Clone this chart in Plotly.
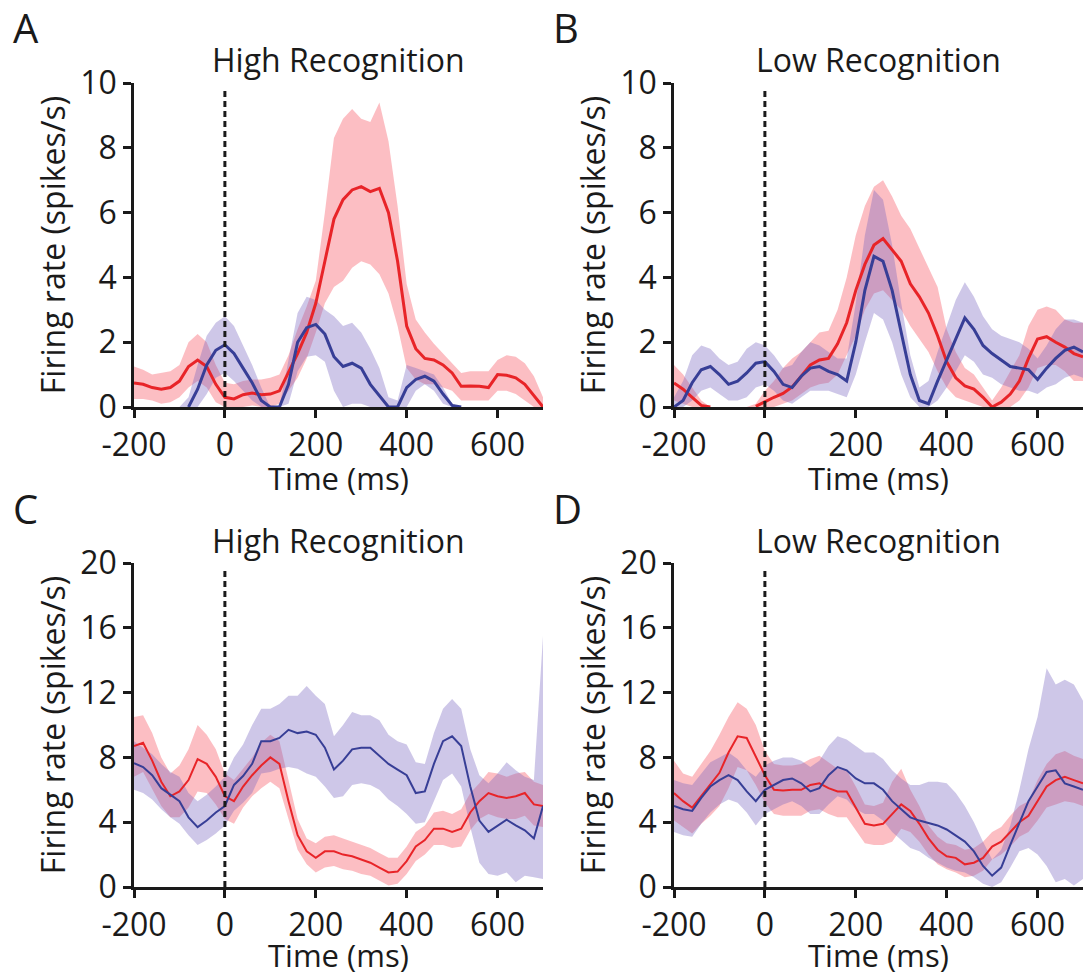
import plotly.graph_objects as go

# ---------------- data ----------------
time_ms = [-200, -180, -160, -140, -120, -100, -80, -60, -40, -20, 0, 20, 40, 60, 80, 100,
           120, 140, 160, 180, 200, 220, 240, 260, 280, 300, 320, 340, 360, 380, 400, 420,
           440, 460, 480, 500, 520, 540, 560, 580, 600, 620, 640, 660, 680, 700]

# Panel A (High Recognition, top); None = rate sits on zero (line hidden by axis)
a_red = [0.74, 0.7, 0.6, 0.55, 0.6, 0.8, 1.25, 1.45, 1.25, 0.7, 0.3, 0.25, 0.38, 0.43, 0.38, 0.4,
         0.5, 1.05, 1.65, 2.3, 3.2, 4.5, 5.8, 6.4, 6.7, 6.8, 6.65, 6.75, 6.0, 4.5, 2.5, 1.8,
         1.5, 1.45, 1.3, 1.05, 0.64, 0.65, 0.64, 0.6, 1.0, 0.98, 0.9, 0.7, 0.35, 0.0]
a_red_hi = [1.25, 1.15, 1.0, 1.05, 1.1, 1.3, 2.0, 2.25, 2.0, 1.3, 0.75, 0.7, 0.8, 0.85, 0.85, 0.9,
            1.0, 1.6, 2.4, 3.1, 3.9, 6.0, 8.3, 8.9, 9.2, 8.9, 8.8, 9.4, 8.2, 6.2, 3.8, 2.7,
            2.3, 1.95, 1.65, 1.35, 1.05, 1.1, 1.1, 1.1, 1.45, 1.6, 1.55, 1.35, 0.95, 0.3]
a_red_lo = [0.25, 0.25, 0.2, 0.1, 0.15, 0.3, 0.6, 0.8, 0.6, 0.15, 0.0, 0.0, 0.0, 0.05, 0.0, 0.0,
            0.1, 0.5, 0.9, 1.5, 2.3, 3.2, 3.7, 3.9, 4.3, 4.5, 4.4, 4.1, 3.5, 2.5, 1.2, 0.85,
            0.7, 0.7, 0.6, 0.5, 0.2, 0.2, 0.2, 0.2, 0.5, 0.5, 0.4, 0.2, 0.0, 0.0]
a_blue = [None, None, None, None, None, None, 0, 0.55, 1.3, 1.75, 1.92, 1.65, 1.2, 0.75, 0.2, 0,
          0, 0.7, 2.0, 2.45, 2.55, 2.25, 1.55, 1.25, 1.35, 1.2, 0.7, 0.35, 0.0, 0, 0.6, 0.85,
          0.95, 0.8, 0.4, 0.05, 0, None, None, None, None, None, None, None, None, None]
a_blue_hi = [0, 0, 0, 0, 0, 0, 0.3, 1.3, 2.2, 2.6, 2.8, 2.5, 1.9, 1.3, 0.6, 0,
             0, 1.4, 2.9, 3.4, 3.3, 3.0, 2.8, 2.5, 2.6, 2.3, 1.8, 1.2, 0.3, 0.2, 1.3, 1.2,
             1.1, 1.0, 0.6, 0.1, 0, 0, 0, 0, 0, 0, 0, 0, 0, 0]
a_blue_lo = [0, 0, 0, 0, 0, 0, 0, 0, 0.4, 0.9, 1.05, 0.8, 0.5, 0.2, 0, 0,
             0, 0.1, 1.1, 1.55, 1.6, 1.4, 0.5, 0.0, 0.1, 0.1, 0, 0, 0, 0, 0, 0.5,
             0.7, 0.5, 0.1, 0, 0, 0, 0, 0, 0, 0, 0, 0, 0, 0]

# Panel B (Low Recognition, top)
b_red = [0.74, 0.55, 0.3, 0.05, 0, None, None, None, None, 0.02, 0.17, 0.3, 0.42, 0.62, 0.95, 1.3,
         1.45, 1.5, 1.95, 2.6, 3.6, 4.4, 5.0, 5.2, 4.85, 4.5, 3.8, 3.4, 2.9, 2.2, 1.4, 0.9,
         0.65, 0.55, 0.3, 0.0, 0.15, 0.4, 0.8, 1.5, 2.1, 2.17, 2.0, 1.85, 1.65, 1.55]
b_red_hi = [1.3, 1.0, 0.6, 0.2, 0, 0, 0, 0, 0, 0.1, 0.5, 0.8, 1.2, 1.5, 1.7, 2.0,
            2.3, 2.35, 3.0, 4.0, 5.3, 6.2, 6.8, 7.0, 6.5, 5.9, 5.5, 4.9, 4.3, 3.7, 2.4, 1.7,
            1.2, 1.0, 0.6, 0.2, 0.6, 1.1, 1.6, 2.5, 3.0, 3.1, 3.0, 2.7, 2.6, 2.6]
b_red_lo = [0.2, 0.1, 0, 0, 0, 0, 0, 0, 0, 0, 0, 0, 0.1, 0.2, 0.4, 0.6,
            0.7, 0.75, 1.0, 1.6, 2.2, 3.0, 3.5, 3.6, 3.3, 3.0, 2.5, 2.1, 1.7, 1.1, 0.6, 0.3,
            0.2, 0.1, 0, 0, 0, 0, 0.2, 0.6, 1.2, 1.3, 1.3, 1.1, 0.8, 0.8]
b_blue = [0, 0.2, 0.75, 1.15, 1.25, 1.0, 0.7, 0.8, 1.05, 1.35, 1.4, 1.1, 0.7, 0.6, 0.95, 1.2,
          1.25, 1.1, 1.0, 0.8, 2.0, 3.6, 4.65, 4.5, 3.6, 2.3, 1.0, 0.2, 0.1, 0.8, 1.45, 2.1,
          2.75, 2.4, 1.9, 1.65, 1.45, 1.25, 1.2, 1.15, 0.85, 1.2, 1.5, 1.75, 1.85, 1.7]
b_blue_hi = [0.3, 0.8, 1.6, 1.9, 1.8, 1.5, 1.3, 1.4, 1.8, 2.0, 1.9, 1.6, 1.2, 1.3, 1.7, 2.0,
             1.9, 1.7, 1.5, 1.5, 3.2, 5.3, 6.7, 6.4, 5.0, 3.2, 1.6, 0.6, 0.8, 1.7, 2.5, 3.3,
             3.85, 3.4, 2.8, 2.4, 2.2, 2.1, 2.0, 1.8, 1.5, 1.9, 2.4, 2.7, 2.7, 2.6]
b_blue_lo = [0, 0, 0.2, 0.5, 0.6, 0.4, 0.2, 0.2, 0.3, 0.6, 0.7, 0.5, 0.2, 0.1, 0.3, 0.5,
             0.5, 0.5, 0.4, 0.3, 1.0, 2.0, 2.9, 2.7, 2.0, 1.0, 0.3, 0, 0, 0.2, 0.6, 1.1,
             1.6, 1.4, 1.0, 0.9, 0.7, 0.6, 0.5, 0.5, 0.4, 0.6, 0.7, 0.9, 1.0, 0.9]

# Panel C (High Recognition, bottom)
c_red = [8.7, 8.9, 7.8, 6.5, 5.6, 5.9, 6.6, 7.9, 7.6, 6.8, 5.6, 5.3, 6.2, 6.9, 7.5, 8.0,
         7.6, 5.3, 3.2, 2.2, 1.8, 2.2, 2.2, 2.0, 1.9, 1.7, 1.5, 1.2, 0.9, 0.95, 1.6, 2.5,
         2.9, 3.6, 3.6, 3.4, 3.6, 4.6, 5.3, 5.8, 5.6, 5.5, 5.6, 5.8, 5.1, 5.0]
c_red_hi = [10.5, 10.6, 9.5, 8.0, 7.0, 7.5, 8.5, 10.0, 9.4, 8.5, 7.0, 6.6, 7.3, 8.0, 8.9, 9.4,
            9.0, 6.5, 4.2, 3.0, 2.7, 3.1, 3.2, 3.0, 2.8, 2.6, 2.4, 2.1, 1.8, 1.8, 2.5, 3.4,
            3.8, 4.6, 4.7, 4.5, 4.8, 5.8, 6.4, 7.1, 7.0, 6.8, 7.0, 7.1, 6.5, 6.3]
c_red_lo = [6.8, 7.1, 6.1, 5.0, 4.3, 4.3, 4.9, 5.9, 5.8, 5.1, 4.2, 3.9, 4.9, 5.6, 6.1, 6.5,
            6.1, 4.2, 2.3, 1.4, 0.9, 1.2, 1.3, 1.1, 1.0, 0.8, 0.7, 0.4, 0.1, 0.2, 0.8, 1.6,
            2.0, 2.6, 2.6, 2.4, 2.5, 3.5, 4.2, 4.5, 4.3, 4.2, 4.2, 4.4, 3.8, 3.7]
c_blue = [7.65, 7.4, 6.9, 6.1, 5.7, 5.3, 4.3, 3.7, 4.1, 4.6, 5.0, 6.3, 6.85, 7.6, 9.0, 9.0,
          9.2, 9.7, 9.5, 9.6, 9.4, 8.6, 7.25, 7.8, 8.5, 8.6, 8.6, 8.1, 7.6, 7.25, 6.9, 5.8,
          5.9, 7.6, 9.0, 9.3, 8.7, 6.2, 4.1, 3.4, 3.8, 4.15, 3.8, 3.5, 3.0, 5.0]
c_blue_hi = [9.0, 8.6, 8.2, 7.6, 7.1, 6.8, 5.8, 5.3, 5.7, 6.2, 6.8, 8.0, 8.8, 10.0, 11.0, 11.0,
             11.3, 11.8, 11.8, 12.4, 11.8, 11.3, 9.3, 10.0, 10.8, 10.6, 10.6, 10.3, 9.4, 9.0, 8.8, 7.7,
             7.6, 9.5, 11.0, 11.6, 11.0, 8.5, 6.9, 6.4, 7.0, 7.7, 7.2, 6.8, 6.6, 15.5]
c_blue_lo = [6.0, 5.8, 5.4, 4.8, 4.3, 3.9, 3.2, 2.6, 2.9, 3.3, 3.8, 4.7, 5.2, 5.8, 7.0, 7.1,
             7.3, 7.4, 7.3, 7.0, 6.8, 6.2, 5.5, 5.6, 6.3, 6.4, 6.3, 6.0, 5.4, 5.0, 4.5, 3.9,
             4.0, 5.3, 6.6, 7.0, 6.2, 3.7, 1.5, 0.8, 0.7, 0.9, 0.3, 0.7, 0.6, 0.5]

# Panel D (Low Recognition, bottom)
d_red = [5.8, 5.3, 4.9, 5.6, 6.3, 7.05, 8.3, 9.3, 9.2, 8.0, 6.9, 6.0, 5.95, 6.0, 6.0, 6.3,
         6.4, 6.1, 5.9, 5.9, 4.9, 3.9, 3.8, 3.9, 4.5, 5.1, 4.7, 3.9, 3.0, 2.3, 1.9, 1.8,
         1.4, 1.5, 1.8, 2.5, 2.8, 3.4, 4.0, 4.4, 5.3, 6.2, 6.6, 6.8, 6.6, 6.4]
d_red_hi = [7.8, 7.0, 6.8, 7.6, 8.4, 9.4, 10.5, 11.4, 11.0, 10.0, 8.4, 7.6, 7.5, 7.5, 7.6, 7.9,
            8.1, 7.7, 7.3, 7.2, 6.2, 5.1, 5.0, 5.2, 6.5, 7.3, 6.0, 5.0, 3.8, 3.1, 2.7, 2.6,
            2.3, 2.4, 2.8, 3.4, 3.7, 4.4, 5.0, 5.3, 6.6, 7.6, 8.2, 8.4, 8.1, 7.9]
d_red_lo = [4.1, 3.7, 3.3, 3.9, 4.4, 5.0, 6.1, 7.4, 7.2, 6.3, 5.2, 4.5, 4.4, 4.4, 4.4, 4.7,
            4.8, 4.5, 4.3, 4.3, 3.5, 2.7, 2.6, 2.6, 2.8, 3.6, 3.4, 2.8, 2.0, 1.4, 1.1, 0.9,
            0.6, 0.7, 1.0, 1.7, 2.0, 2.5, 3.1, 3.4, 4.1, 4.9, 5.1, 5.3, 5.2, 5.0]
d_blue = [5.0, 4.8, 4.7, 5.5, 6.2, 6.6, 6.9, 6.6, 5.9, 5.3, 6.0, 6.3, 6.6, 6.7, 6.4, 5.9,
          6.1, 6.9, 7.4, 7.2, 6.7, 6.4, 6.4, 6.0, 5.3, 4.8, 4.3, 4.1, 3.95, 3.8, 3.55, 3.2,
          2.8, 2.2, 1.3, 0.7, 1.2, 2.6, 4.0, 5.3, 6.2, 7.1, 7.2, 6.4, 6.2, 6.0]
d_blue_hi = [6.6, 6.4, 6.3, 7.0, 7.7, 8.0, 8.3, 7.9, 7.2, 6.8, 7.5, 7.8, 8.0, 8.0, 7.8, 7.4,
             7.8, 8.7, 9.3, 9.1, 8.7, 8.3, 8.3, 7.9, 7.2, 6.7, 6.3, 6.3, 6.5, 6.5, 6.4, 5.8,
             5.0, 4.0, 2.8, 1.7, 2.3, 3.8, 6.0, 8.5, 10.5, 13.5, 12.5, 12.8, 12.5, 11.5]
d_blue_lo = [3.4, 3.2, 3.1, 3.9, 4.6, 5.1, 5.4, 5.2, 4.6, 3.8, 4.5, 4.8, 5.1, 5.3, 5.0, 4.5,
             4.5, 5.1, 5.6, 5.4, 4.8, 4.5, 4.5, 4.1, 3.4, 2.9, 2.4, 2.2, 1.8, 1.5, 1.2, 1.0,
             0.9, 0.6, 0.2, 0.0, 0.3, 1.2, 2.2, 2.4, 2.0, 1.3, 0.3, 0.5, 0.1, 0.5]

panel_letters = ["A", "B", "C", "D"]
panel_titles = ["High Recognition", "Low Recognition", "High Recognition", "Low Recognition"]
x_title = "Time (ms)"
y_title = "Firing rate (spikes/s)"
x_ticks = [-200, 0, 200, 400, 600]
x_tick_text = ["-200", "0", "200", "400", "600"]
y_ticks_top = [0, 2, 4, 6, 8, 10]
y_ticks_bottom = [0, 4, 8, 12, 16, 20]

# ---------------- styling ----------------
W, H = 1084, 978
FONT = "Open Sans"
INK = "#1a1a1a"
FS = 32
RED = "rgb(232,36,40)"
BLUE = "rgb(55,62,150)"
RED_BAND = "rgba(248,110,122,0.45)"
BLUE_BAND = "rgba(120,100,190,0.36)"

# plot-area pixel boxes (left, right, top, bottom)
boxes = [(134, 543, 83, 407), (674, 1083, 83, 407), (134, 543, 563, 887), (674, 1083, 563, 887)]

panels = [
    (a_red, a_red_lo, a_red_hi, a_blue, a_blue_lo, a_blue_hi, 10, y_ticks_top, 3),
    (b_red, b_red_lo, b_red_hi, b_blue, b_blue_lo, b_blue_hi, 10, y_ticks_top, 3),
    (c_red, c_red_lo, c_red_hi, c_blue, c_blue_lo, c_blue_hi, 20, y_ticks_bottom, 2),
    (d_red, d_red_lo, d_red_hi, d_blue, d_blue_lo, d_blue_hi, 20, y_ticks_bottom, 2),
]

fig = go.Figure()
layout = dict(
    width=W, height=H,
    margin=dict(l=0, r=0, t=0, b=0, autoexpand=False),
    paper_bgcolor="white", plot_bgcolor="white",
    showlegend=False,
    font=dict(family=FONT, size=FS, color=INK),
    shapes=[], annotations=[],
)

for i, (red, red_lo, red_hi, blue, blue_lo, blue_hi, ymax, yticks, lw) in enumerate(panels):
    n = i + 1
    xa = "x" if n == 1 else f"x{n}"
    ya = "y" if n == 1 else f"y{n}"
    band_x = time_ms + time_ms[::-1]
    fig.add_trace(go.Scatter(x=band_x, y=red_hi + red_lo[::-1], fill="toself",
                             fillcolor=RED_BAND, line=dict(width=0), mode="lines",
                             hoverinfo="skip", xaxis=xa, yaxis=ya))
    fig.add_trace(go.Scatter(x=band_x, y=blue_hi + blue_lo[::-1], fill="toself",
                             fillcolor=BLUE_BAND, line=dict(width=0), mode="lines",
                             hoverinfo="skip", xaxis=xa, yaxis=ya))
    fig.add_trace(go.Scatter(x=time_ms, y=red, mode="lines", line=dict(color=RED, width=lw),
                             connectgaps=False, xaxis=xa, yaxis=ya))
    fig.add_trace(go.Scatter(x=time_ms, y=blue, mode="lines", line=dict(color=BLUE, width=lw),
                             connectgaps=False, xaxis=xa, yaxis=ya))

    l, r, t, b = boxes[i]
    xkey = "xaxis" if n == 1 else f"xaxis{n}"
    ykey = "yaxis" if n == 1 else f"yaxis{n}"
    layout[xkey] = dict(
        domain=[l / W, r / W], anchor=ya, range=[-200, 700], automargin=False,
        tickmode="array", tickvals=x_ticks, ticktext=x_tick_text,
        ticks="outside", ticklen=8, tickwidth=2.5, ticklabelstandoff=0,
        tickcolor=INK, showline=True, linecolor=INK, linewidth=2.5,
        showgrid=False, zeroline=False, tickfont=dict(size=FS, family=FONT, color=INK),
    )
    layout[ykey] = dict(
        domain=[1 - b / H, 1 - t / H], anchor=xa, range=[0, ymax], automargin=False,
        tickmode="array", tickvals=yticks, ticks="outside", ticklen=8, tickwidth=2.5,
        tickcolor=INK, showline=True, linecolor=INK, linewidth=2.5,
        showgrid=False, zeroline=False, tickfont=dict(size=FS, family=FONT, color=INK),
        title=dict(text=y_title, font=dict(size=FS, family=FONT, color=INK), standoff=6),
    )
    # stimulus-onset dashed line
    layout["shapes"].append(dict(type="line", xref=xa, yref=ya, x0=0, x1=0, y0=0, y1=ymax * 0.985,
                                 line=dict(color=INK, width=3, dash="6px,4px"), layer="above"))
    # x-axis title (bottom-anchored so it stays inside the page)
    layout["annotations"].append(dict(text=x_title, xref="paper", yref="paper",
                                      x=(l + r) / 2 / W, y=max(0.0, 1 - (b + 94) / H),
                                      xanchor="center", yanchor="bottom", showarrow=False,
                                      font=dict(size=31, family=FONT, color=INK)))
    # panel title
    layout["annotations"].append(dict(text=panel_titles[i], xref="paper", yref="paper",
                                      x=(l + r) / 2 / W, y=1 - (t - 23) / H,
                                      xanchor="center", yanchor="middle", showarrow=False,
                                      font=dict(size=FS, family=FONT, color=INK)))
    # panel letter
    layout["annotations"].append(dict(text=panel_letters[i], xref="paper", yref="paper",
                                      x=(l - 123) / W, y=1 - (t - 55) / H,
                                      xanchor="left", yanchor="middle", showarrow=False,
                                      font=dict(size=40, family=FONT, color=INK)))

fig.update_layout(**layout)
fig.write_html("out.html")
